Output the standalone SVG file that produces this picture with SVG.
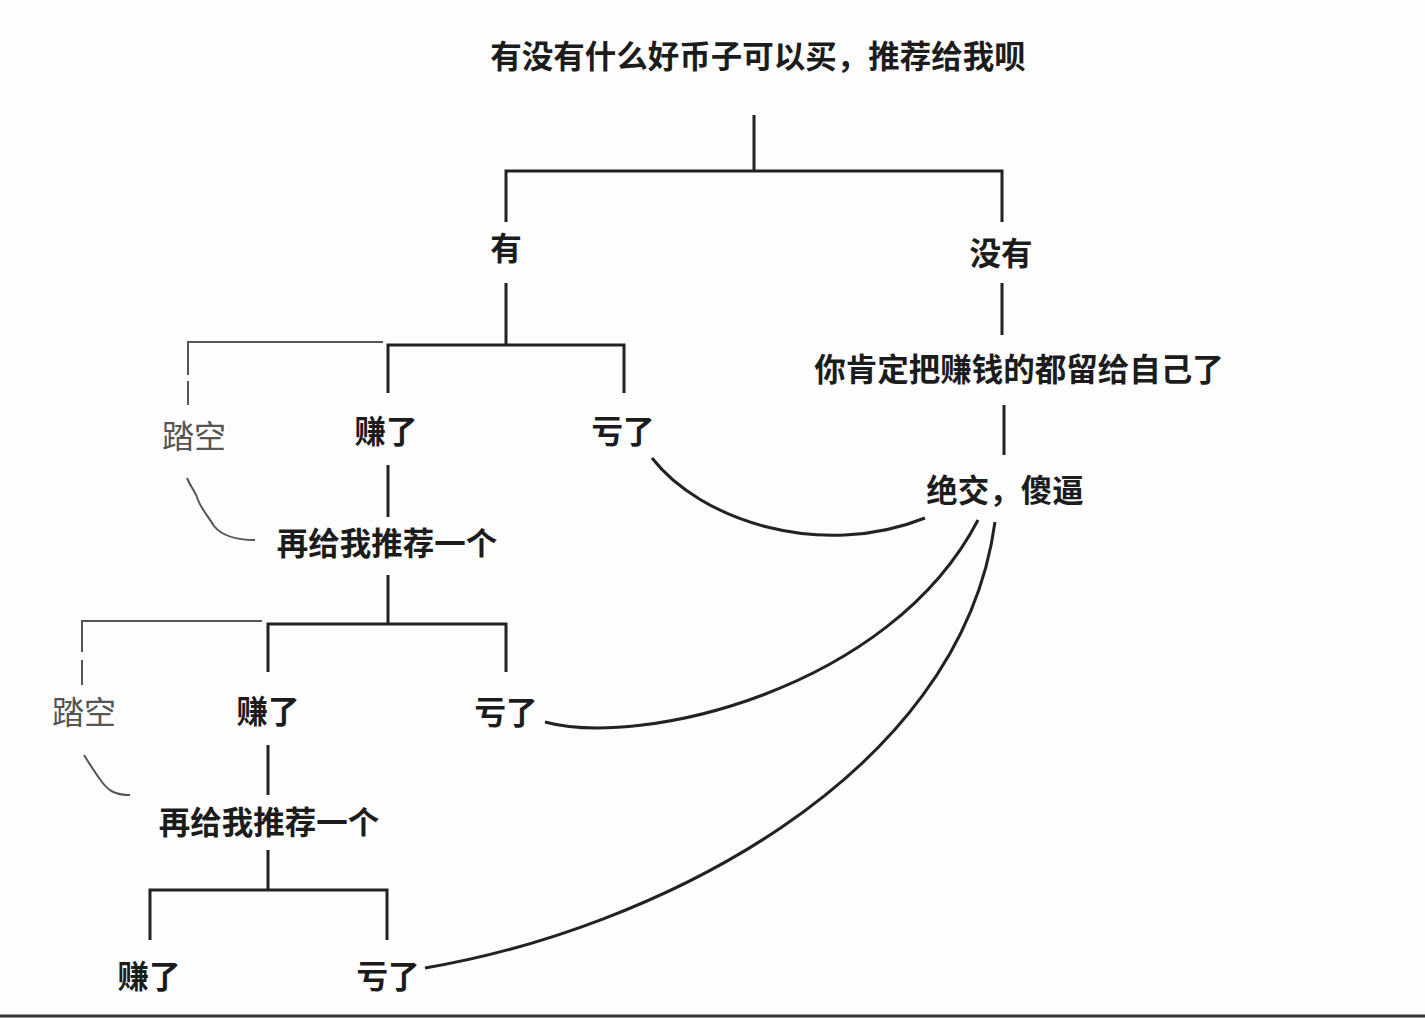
<svg xmlns="http://www.w3.org/2000/svg" width="1425" height="1018" viewBox="0 0 1425 1018">
<style>
.t{font-family:"Noto Sans CJK SC","Noto Sans CJK TC",sans-serif;font-size:31.5px;font-weight:700;fill:#1c1c1c;text-anchor:middle;dominant-baseline:central}
.g{font-family:"Noto Sans CJK SC",sans-serif;font-size:32px;font-weight:400;fill:#555;text-anchor:middle;dominant-baseline:central}
.k{stroke:#222;stroke-width:3;fill:none}
.h{stroke:#555;stroke-width:2;fill:none}
</style>
<rect width="1425" height="1018" fill="#fdfdfd"/>
<line x1="0" y1="1016" x2="1425" y2="1016" stroke="#333" stroke-width="3"/>
<g id="connectors">
<path class="k" d="M754,115V171M506,222V171H1002V222"/>
<path class="k" d="M506,283V345M388,393V345H624V393"/>
<path class="k" d="M1002,283V335M1004,405V455"/>
<path class="k" d="M388,465V517M388,575V624M268,672V624H506V672"/>
<path class="k" d="M268,745V795M268,850V890M150,940V890H387V940"/>
<path class="h" d="M383,342H188V375M188,381V405"/>
<path class="h" d="M262,621H82V652M82,660V685"/>
<path class="h" d="M187,478C192,490 196,492 198,500C202,510 208,516 214,526C222,536 235,540 255,540"/>
<path class="h" d="M84,755C92,768 96,774 102,782C108,790 114,795 130,795"/>
<path class="k" stroke-width="2.5" d="M652,458C700,520 820,560 925,518"/>
<path class="k" stroke-width="2.5" d="M545,722C640,748 890,690 978,520"/>
<path class="k" stroke-width="2.5" d="M425,968C650,930 960,780 995,522"/>
</g>
<g id="n-root"><text class="t" x="758" y="54">有没有什么好币子可以买，推荐给我呗</text></g>
<g id="n-you"><text class="t" x="506" y="246">有</text></g>
<g id="n-meiyou"><text class="t" x="1001" y="251">没有</text></g>
<g id="n-nikending"><text class="t" x="1019" y="367">你肯定把赚钱的都留给自己了</text></g>
<g id="n-juejiao"><text class="t" x="1005" y="488">绝交，傻逼</text></g>
<g id="n-zhuan1"><text class="t" x="386" y="429">赚了</text></g>
<g id="n-kui1"><text class="t" x="623" y="429">亏了</text></g>
<g id="n-takong1"><text class="g" x="194" y="434">踏空</text></g>
<g id="n-zai1"><text class="t" x="387" y="541">再给我推荐一个</text></g>
<g id="n-zhuan2"><text class="t" x="268" y="709">赚了</text></g>
<g id="n-kui2"><text class="t" x="506" y="710">亏了</text></g>
<g id="n-takong2"><text class="g" x="84" y="710">踏空</text></g>
<g id="n-zai2"><text class="t" x="269" y="820">再给我推荐一个</text></g>
<g id="n-zhuan3"><text class="t" x="149" y="974">赚了</text></g>
<g id="n-kui3"><text class="t" x="388" y="974">亏了</text></g>
</svg>
